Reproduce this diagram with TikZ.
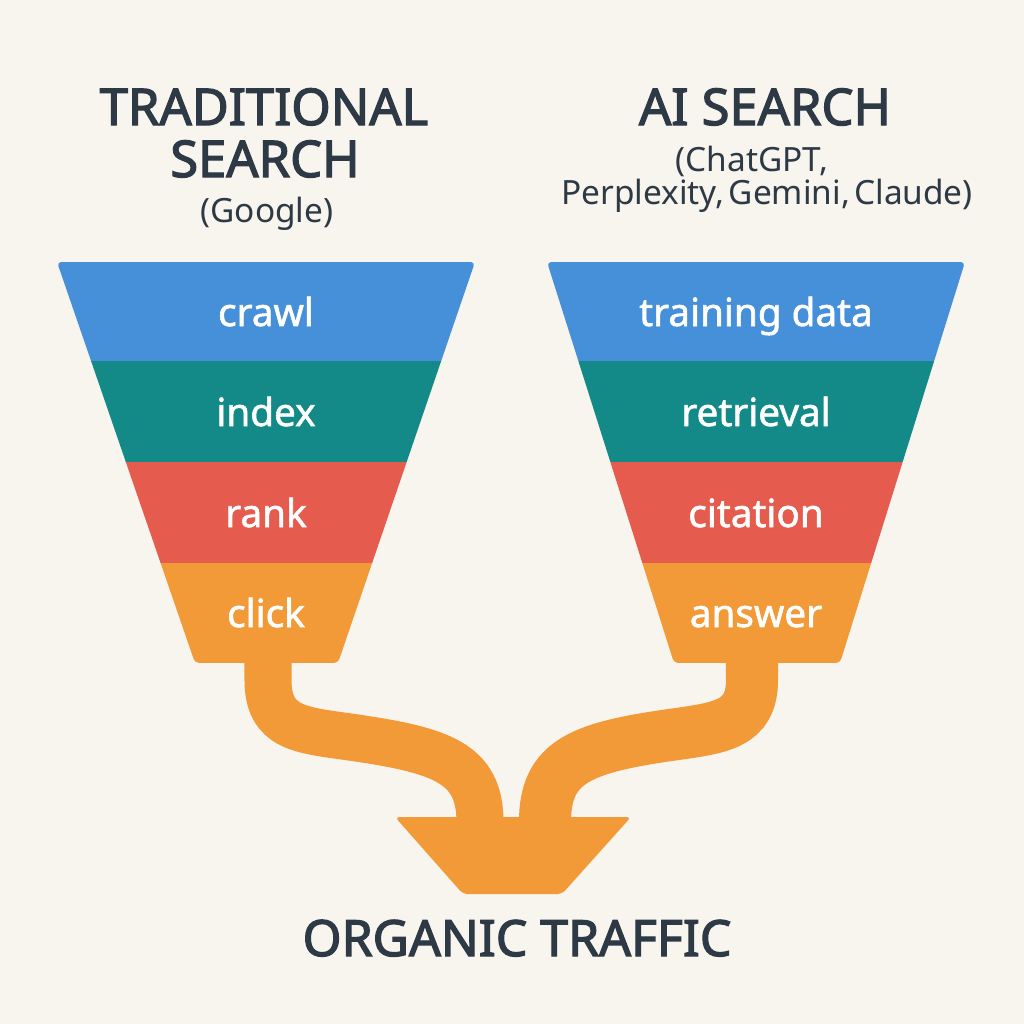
\documentclass[tikz,border=0pt]{standalone}
\usepackage{fontspec}
\setmainfont{Noto Sans}
\IfFontExistsTF{Noto Sans Bold}
  {\newfontfamily\titlefont{Noto Sans Bold}}
  {\newfontfamily\titlefont{Noto Sans}[FakeBold=2.5]}
\IfFontExistsTF{Noto Sans SemiBold}
  {\newfontfamily\lblfont{Noto Sans SemiBold}}
  {\IfFontExistsTF{Noto Sans Medium}
     {\newfontfamily\lblfont{Noto Sans Medium}}
     {\newfontfamily\lblfont{Noto Sans}[FakeBold=1.5]}}
\newfontfamily\subfont{Noto Sans}[WordSpace=0.5]
\definecolor{bg}{HTML}{F8F4EE}
\definecolor{fblue}{HTML}{4690D9}
\definecolor{fteal}{HTML}{138A88}
\definecolor{fred}{HTML}{E55B4D}
\definecolor{forange}{HTML}{F39A38}
\definecolor{ink}{HTML}{2D3A45}
\begin{document}
\begin{tikzpicture}[x=0.01cm,y=-0.01cm,
  title/.style={inner sep=0pt, anchor=base, text=ink, font=\titlefont\fontsize{14.4}{16}\selectfont},
  subtitle/.style={inner sep=0pt, anchor=base, text=ink, font=\subfont\fontsize{9.5}{11}\selectfont},
  bottomtitle/.style={inner sep=0pt, anchor=base, text=ink, font=\titlefont\fontsize{14.2}{16}\selectfont},
  lbl/.style={inner sep=0pt, anchor=base, text=white, font=\lblfont\fontsize{11.0}{13}\selectfont},
  stem/.style={draw=forange, line width=0.47cm, line cap=butt}]
\fill[bg] (0,0) rectangle (1024,1024);
\useasboundingbox (0,0) rectangle (1024,1024);

% titles
\node[title] (t1) at (264,125) {TRADITIONAL};
\node[title] (t2) at (265,177) {SEARCH};
\node[subtitle] (t3) at (267,222) {(Google)};
\node[title] (a1) at (765,125) {AI SEARCH};
\node[subtitle] (a2) at (752,171) {(ChatGPT,};
\node[subtitle] (a3) at (767,204) {Perplexity, Gemini, Claude)};

% stems
\draw[stem] (268,655) -- (268,680) .. controls (268,728) and (300,730) .. (350,737) .. controls (440,750) and (480,762) .. (480,822);
\draw[stem, line width=0.52cm] (752,655) -- (752,680) .. controls (752,725) and (720,728) .. (670,735) .. controls (580,748) and (545,762) .. (545,822);
\fill[forange, rounded corners=1.2pt] (395,817) -- (631,817) -- (562,894) -- (463,894) -- cycle;

% left funnel
\begin{scope}
\clip[rounded corners=1.2pt] (57,262) -- (475,262) -- (338,663) -- (195,663) -- cycle;
\fill[fblue] (0,262) rectangle (1024,361);
\fill[fteal] (0,361) rectangle (1024,462);
\fill[fred] (0,462) rectangle (1024,563);
\fill[forange] (0,563) rectangle (1024,663);
\end{scope}
% right funnel
\begin{scope}
\clip[rounded corners=1.2pt] (547,262) -- (965,262) -- (840,663) -- (674,663) -- cycle;
\fill[fblue] (0,262) rectangle (1024,361);
\fill[fteal] (0,361) rectangle (1024,462);
\fill[fred] (0,462) rectangle (1024,563);
\fill[forange] (0,563) rectangle (1024,663);
\end{scope}

\node[lbl] (l1) at (266,326) {crawl};
\node[lbl] (l2) at (266,426) {index};
\node[lbl] (l3) at (266,527) {rank};
\node[lbl] (l4) at (266,627) {click};
\node[lbl] (r1) at (756,326) {training data};
\node[lbl] (r2) at (756,426) {retrieval};
\node[lbl] (r3) at (756,527) {citation};
\node[lbl] (r4) at (756,627) {answer};

\node[bottomtitle] (o) at (517,956) {ORGANIC TRAFFIC};
\end{tikzpicture}
\end{document}
